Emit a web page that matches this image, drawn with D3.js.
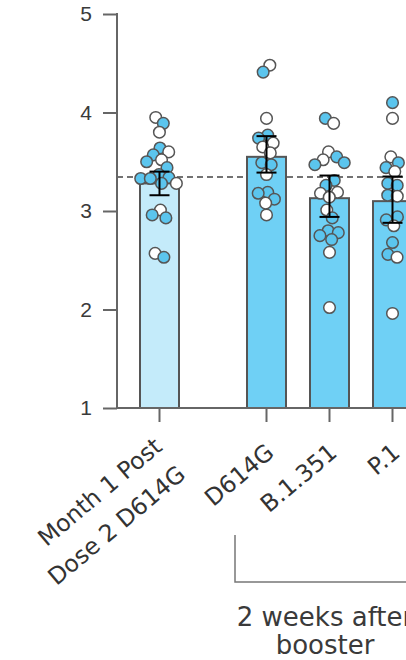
<!DOCTYPE html>
<html>
<head>
<meta charset="utf-8">
<script src="https://cdn.jsdelivr.net/npm/d3@7"></script>
<style>
  body { margin: 0; background: #fff; }
  svg { display: block; }
</style>
</head>
<body>
<svg id="grafico" width="406" height="660"></svg>
<script>
// categorias e valores
const categorias = [["Month 1 Post", "Dose 2 D614G"], ["D614G"], ["B.1.351"], ["P.1"]];
const medias = [3.28, 3.55, 3.13, 3.10];
const erroInferior = [3.16, 3.39, 2.94, 2.88];
const erroSuperior = [3.40, 3.76, 3.36, 3.35];

// pontos azuis e brancos de cada grupo
const pontosAzuis = [
    [3.89, 3.64, 3.57, 3.50, 3.44, 3.37, 3.34, 3.33, 3.33, 3.28, 2.96, 2.93, 2.53],
    [4.41, 3.77, 3.74, 3.49, 3.47, 3.19, 3.18, 3.12],
    [3.94, 3.55, 3.49, 3.47, 3.31, 3.26, 2.93, 2.80, 2.78, 2.75, 2.71],
    [4.10, 3.49, 3.44, 3.28, 3.26, 3.16, 2.94, 2.91, 2.68, 2.56]
];
const pontosBrancos = [
    [3.95, 3.80, 3.60, 3.52, 3.28, 3.01, 2.57],
    [4.48, 3.94, 3.69, 3.65, 3.59, 3.37, 3.08, 2.96],
    [3.89, 3.60, 3.52, 3.19, 3.18, 3.14, 3.01, 2.58, 2.02],
    [3.94, 3.55, 3.40, 3.15, 2.85, 2.53, 1.96]
];

const ticksY = [1, 2, 3, 4, 5];
const linhaReferencia = 3.345;
const rotuloGrupo = ["2 weeks after", "booster"];

const svg = d3.select("#grafico");

const eixoX = 117;
const base = 408;

const y = d3.scaleLinear().domain([1, 5]).range([base, 14]);

const xBanda = d3.scaleBand()
    .domain(d3.range(categorias.length))
    .range([140, 368])
    .paddingInner(0.381)
    .paddingOuter(0);

const espacoGrupo = 44;
const centro = (i) => xBanda(i) + xBanda.bandwidth() / 2 + (i > 0 ? espacoGrupo : 0);

const corCinza = "#666";

// linha tracejada
svg.append("line")
    .attr("x1", eixoX).attr("x2", 406)
    .attr("y1", y(linhaReferencia)).attr("y2", y(linhaReferencia))
    .attr("stroke", "#444")
    .attr("stroke-width", 1.5)
    .attr("stroke-dasharray", "6,4");

// barras
svg.selectAll(".barra")
    .data(medias)
    .enter().append("rect")
        .attr("class", "barra")
        .attr("x", (d, i) => centro(i) - xBanda.bandwidth() / 2)
        .attr("y", d => y(d))
        .attr("width", xBanda.bandwidth())
        .attr("height", d => base - y(d))
        .attr("fill", (d, i) => i == 0 ? "#c4ebfa" : "#6fd0f5")
        .attr("stroke", "#555")
        .attr("stroke-width", 2);

// pontos espalhados com simulacao de forca
const nos = [];
categorias.forEach((c, i) => {
    pontosAzuis[i].forEach(v => nos.push({grupo: i, valor: v, cor: "#5bc5ee"}));
    pontosBrancos[i].forEach(v => nos.push({grupo: i, valor: v, cor: "#ffffff"}));
});
nos.sort((a, b) => a.grupo - b.grupo || b.valor - a.valor);
nos.forEach(n => { n.x = centro(n.grupo); n.y = y(n.valor); n.fy = y(n.valor); });

const simulacao = d3.forceSimulation(nos)
    .force("x", d3.forceX(d => centro(d.grupo)).strength(0.08))
    .force("colisao", d3.forceCollide(4.8))
    .stop();
for (let k = 0; k < 200; k++) simulacao.tick();

svg.selectAll(".ponto")
    .data(nos)
    .enter().append("circle")
        .attr("class", "ponto")
        .attr("cx", d => d.x)
        .attr("cy", d => d.y)
        .attr("r", 5.8)
        .attr("fill", d => d.cor)
        .attr("stroke", "#555")
        .attr("stroke-width", 1.5);

// barras de erro
const erros = svg.selectAll(".erro")
    .data(medias)
    .enter().append("g")
        .attr("class", "erro")
        .attr("stroke", "#000")
        .attr("stroke-width", 2);

erros.append("line")
    .attr("x1", (d, i) => centro(i)).attr("x2", (d, i) => centro(i))
    .attr("y1", (d, i) => y(erroInferior[i])).attr("y2", (d, i) => y(erroSuperior[i]));
erros.append("line")
    .attr("x1", (d, i) => centro(i) - 10).attr("x2", (d, i) => centro(i) + 10)
    .attr("y1", (d, i) => y(erroInferior[i])).attr("y2", (d, i) => y(erroInferior[i]));
erros.append("line")
    .attr("x1", (d, i) => centro(i) - 10).attr("x2", (d, i) => centro(i) + 10)
    .attr("y1", (d, i) => y(erroSuperior[i])).attr("y2", (d, i) => y(erroSuperior[i]));

// eixo y
const gEixoY = svg.append("g")
    .attr("transform", `translate(${eixoX},0)`)
    .call(d3.axisLeft(y).tickValues(ticksY).tickFormat(d3.format("d")).tickSize(14).tickPadding(11));

gEixoY.select(".domain").remove();
gEixoY.selectAll(".tick line").attr("stroke", corCinza).attr("stroke-width", 2);
gEixoY.selectAll(".tick text")
    .attr("fill", "#3a3a3a")
    .style("font-family", "'Liberation Sans', Arial, sans-serif")
    .style("font-size", "21px");

svg.append("line")
    .attr("x1", eixoX).attr("x2", eixoX)
    .attr("y1", y(5) - 1).attr("y2", base + 1)
    .attr("stroke", corCinza).attr("stroke-width", 2);

// eixo x
svg.append("line")
    .attr("x1", eixoX - 1).attr("x2", 406)
    .attr("y1", base).attr("y2", base)
    .attr("stroke", corCinza).attr("stroke-width", 2);

svg.selectAll(".tickX")
    .data(categorias)
    .enter().append("line")
        .attr("class", "tickX")
        .attr("x1", (d, i) => centro(i)).attr("x2", (d, i) => centro(i))
        .attr("y1", base).attr("y2", base + 14)
        .attr("stroke", corCinza).attr("stroke-width", 2);

// rotulos inclinados
const rotulos = svg.selectAll(".rotuloX")
    .data(categorias)
    .enter().append("text")
        .attr("class", "rotuloX")
        .attr("transform", (d, i) => {
            const px = centro(i) + (d.length > 1 ? 4 : 9);
            const py = d.length > 1 ? 449 : 455;
            return `translate(${px},${py}) rotate(-40)`;
        })
        .attr("text-anchor", "end")
        .attr("fill", "#333")
        .style("font-family", "'DejaVu Sans', sans-serif")
        .style("font-size", "23.5px");

rotulos.selectAll("tspan")
    .data(d => d)
    .enter().append("tspan")
        .attr("x", 0)
        .attr("dy", (d, j) => j == 0 ? 0 : "1.55em")
        .text(d => d);

// colchete do grupo
svg.append("path")
    .attr("d", "M235,535 V582 H406")
    .attr("fill", "none")
    .attr("stroke", "#777")
    .attr("stroke-width", 1.5);

svg.append("text")
    .attr("x", 325)
    .attr("y", 626)
    .attr("text-anchor", "middle")
    .attr("fill", "#3a3a3a")
    .style("font-family", "'DejaVu Sans', sans-serif")
    .style("font-size", "26px")
    .selectAll("tspan")
    .data(rotuloGrupo)
    .enter().append("tspan")
        .attr("x", 325)
        .attr("dy", (d, j) => j == 0 ? 0 : 28)
        .text(d => d);
</script>
</body>
</html>
